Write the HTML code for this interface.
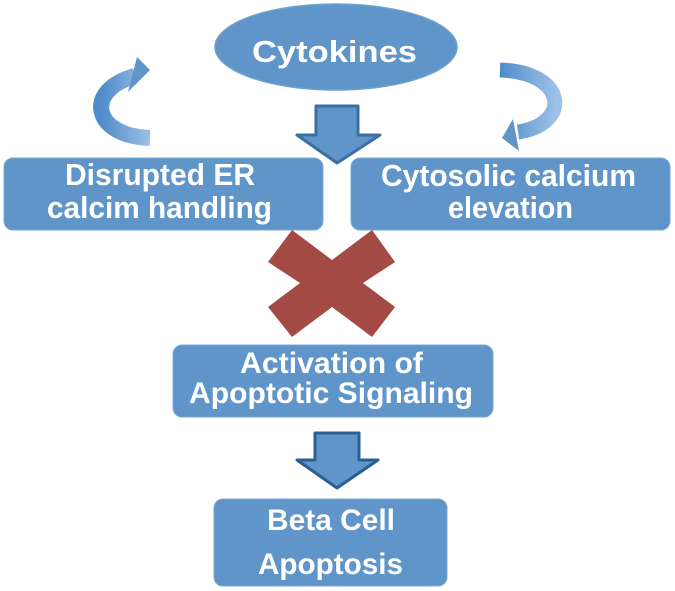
<!DOCTYPE html>
<html><head><meta charset="utf-8"><style>
html,body{margin:0;padding:0;background:#fff;width:675px;height:591px;overflow:hidden}
svg{display:block}
text{font-family:"Liberation Sans",Arial,sans-serif;font-weight:bold;fill:#fff}
</style></head><body>
<svg width="675" height="591" viewBox="0 0 675 591" xmlns="http://www.w3.org/2000/svg">
<defs>
<linearGradient id="g" x1="0" y1="0" x2="1" y2="0">
<stop offset="0" stop-color="#4f8cc9"/><stop offset="1" stop-color="#9cc0e6"/>
</linearGradient>
</defs>
<ellipse cx="336" cy="47" rx="121" ry="43" fill="#5f95c9" stroke="#6fa0d0" stroke-width="1.5"/>
<text x="252" y="62" font-size="31" textLength="165" lengthAdjust="spacingAndGlyphs">Cytokines</text>

<!-- left curved arrow -->
<path d="M150,138 C92,136 84,90 135,76" fill="none" stroke="url(#g)" stroke-width="16"/>
<polygon points="150,70 137,57 128,92" fill="#5f95c9"/>
<!-- right curved arrow -->
<path d="M500,70 C567,72 572,124 518,132" fill="none" stroke="url(#g)" stroke-width="15"/>
<polygon points="502,138 513,119 519,151" fill="#5f95c9"/>

<!-- down arrow 1 -->
<polygon points="316,106 358,106 358,135 380,135 337,163 297,135 316,135" fill="#5f95c9" stroke="#3b6fa3" stroke-width="3" stroke-linejoin="round"/>

<rect x="4" y="158" width="319" height="72" rx="9" fill="#5f95c9" stroke="#7aa7d4"/>
<text x="65" y="185" font-size="31" textLength="190" lengthAdjust="spacingAndGlyphs">Disrupted ER</text>
<text x="47" y="218" font-size="31" textLength="225" lengthAdjust="spacingAndGlyphs">calcim handling</text>
<rect x="351" y="158" width="319" height="72" rx="9" fill="#5f95c9" stroke="#7aa7d4"/>
<text x="381" y="186" font-size="31" textLength="255" lengthAdjust="spacingAndGlyphs">Cytosolic calcium</text>
<text x="448" y="218" font-size="31" textLength="125" lengthAdjust="spacingAndGlyphs">elevation</text>

<!-- X -->
<polygon points="292,230 332,260 372,230 395,262 363,283 395,307 372,337 332,307 292,337 268,307 300,283 268,262" fill="#a44a44"/>

<rect x="173" y="345" width="320" height="72" rx="9" fill="#5f95c9" stroke="#7aa7d4"/>
<text x="240" y="373" font-size="30" textLength="183" lengthAdjust="spacingAndGlyphs">Activation of</text>
<text x="189" y="403" font-size="30" textLength="284" lengthAdjust="spacingAndGlyphs">Apoptotic Signaling</text>

<polygon points="315,433 359,433 359,460 378,460 337,488 297,460 315,460" fill="#5f95c9" stroke="#2a5f94" stroke-width="3" stroke-linejoin="round"/>

<rect x="214" y="499" width="233" height="87" rx="9" fill="#5f95c9" stroke="#7aa7d4"/>
<text x="267" y="530" font-size="30" textLength="128" lengthAdjust="spacingAndGlyphs">Beta Cell</text>
<text x="258" y="574" font-size="30" textLength="145" lengthAdjust="spacingAndGlyphs">Apoptosis</text>
</svg>
</body></html>
